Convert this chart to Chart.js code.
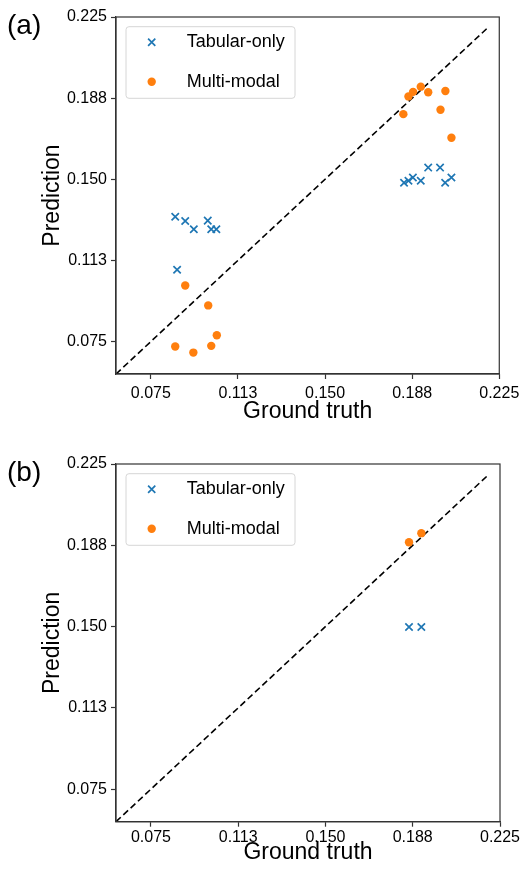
<!DOCTYPE html>
<html>
<head>
<meta charset="utf-8">
<script src="https://cdn.jsdelivr.net/npm/chart.js@4"></script>
<style>
  body { margin: 0; background: #fff; }
  .panel { position: absolute; left: 0; }
</style>
</head>
<body>
<div class="panel" style="top:0"><canvas id="chartA" width="524" height="447"></canvas></div>
<div class="panel" style="top:447px"><canvas id="chartB" width="524" height="424"></canvas></div>
<script>
// tick positions and their printed labels (same on both axes)
const tickValues = [0.075, 0.1125, 0.15, 0.1875, 0.225];
const tickLabels = ['0.075', '0.113', '0.150', '0.188', '0.225'];
const axisMin = 0.06, axisMax = 0.225;
const diagonal = [0.06, 0.22];

const seriesNames = ['Tabular-only', 'Multi-modal'];

// panel (a)
const truthA_tab = [0.0855, 0.0898, 0.0935, 0.0995, 0.1010, 0.1032, 0.0863, 0.1840, 0.1859, 0.1878, 0.1912, 0.1944, 0.1995, 0.2017, 0.2044];
const predA_tab  = [0.1327, 0.1307, 0.1269, 0.1309, 0.1269, 0.1269, 0.1082, 0.1484, 0.1493, 0.1508, 0.1493, 0.1554, 0.1554, 0.1484, 0.1508];
const truthA_mm  = [0.1837, 0.1859, 0.1879, 0.1912, 0.1944, 0.1997, 0.2018, 0.2044, 0.0898, 0.0997, 0.1034, 0.0855, 0.0933, 0.1010];
const predA_mm   = [0.1801, 0.1883, 0.1904, 0.1928, 0.1902, 0.1821, 0.1908, 0.1692, 0.1009, 0.0917, 0.0779, 0.0727, 0.0699, 0.0730];

// panel (b)
const truthB_tab = [0.1859, 0.1912];
const predB_tab  = [0.1498, 0.1498];
const truthB_mm  = [0.1859, 0.1912];
const predB_mm   = [0.1889, 0.1931];

const BLUE = '#1f77b4', ORANGE = '#ff7f0e', SPINE = '#333';
const FONT = '"Liberation Sans", Arial, sans-serif';

function pts(xs, ys) { return xs.map((x, i) => ({ x: x, y: ys[i] })); }

// frame + panel letter + legend inside the axes
const decorations = {
  id: 'decorations',
  afterDraw(chart, args, opts) {
    const ctx = chart.ctx, a = chart.chartArea;
    ctx.save();
    ctx.strokeStyle = SPINE;
    ctx.lineWidth = 1.2;
    ctx.strokeRect(a.left, a.top, a.right - a.left, a.bottom - a.top);

    ctx.fillStyle = '#000';
    ctx.font = '28px ' + FONT;
    ctx.textBaseline = 'alphabetic';
    ctx.textAlign = 'left';
    ctx.fillText(opts.letter, 7, 33.5);

    // legend box
    const bx = a.left + 10, by = a.top + 9.7, bw = 169, bh = 71.6;
    ctx.beginPath();
    ctx.roundRect(bx, by, bw, bh, 3);
    ctx.fillStyle = 'rgba(255,255,255,0.8)';
    ctx.fill();
    ctx.strokeStyle = '#d6d6d6';
    ctx.lineWidth = 1;
    ctx.stroke();

    const rows = [by + 15.6, by + 55];
    const mx = bx + 25.7;
    // x marker
    ctx.strokeStyle = BLUE;
    ctx.lineWidth = 1.7;
    ctx.beginPath();
    ctx.moveTo(mx - 3.6, rows[0] - 3.6); ctx.lineTo(mx + 3.6, rows[0] + 3.6);
    ctx.moveTo(mx - 3.6, rows[0] + 3.6); ctx.lineTo(mx + 3.6, rows[0] - 3.6);
    ctx.stroke();
    // dot marker
    ctx.fillStyle = ORANGE;
    ctx.beginPath();
    ctx.arc(mx, rows[1], 4.2, 0, Math.PI * 2);
    ctx.fill();

    ctx.fillStyle = '#000';
    ctx.font = '18px ' + FONT;
    ctx.textBaseline = 'middle';
    ctx.fillText(seriesNames[0], bx + 60.7, rows[0]);
    ctx.fillText(seriesNames[1], bx + 60.7, rows[1]);
    ctx.restore();
  }
};

function makeChart(id, letter, tab, mm, xAxisHeight, xTitlePad, xTickPad) {
  const axis = (title, isX) => ({
    type: 'linear',
    min: axisMin,
    max: axisMax,
    afterBuildTicks: s => { s.ticks = tickValues.map(v => ({ value: v })); },
    afterFit: s => { if (isX) s.height = xAxisHeight; else s.width = 116; },
    grid: { drawOnChartArea: false, drawTicks: true, tickLength: 5, tickWidth: 1.2, tickColor: SPINE },
    border: { display: true, color: SPINE, width: 1.2 },
    ticks: {
      color: '#000',
      font: { family: FONT, size: 16 },
      padding: isX ? xTickPad : 4,
      maxRotation: 0,
      callback: (v, i) => tickLabels[i]
    },
    title: {
      display: true,
      text: title,
      color: '#000',
      font: { family: FONT, size: 23, lineHeight: 1.2 },
      padding: isX ? { top: 0, bottom: xTitlePad } : { top: 39, bottom: 0 }
    }
  });

  return new Chart(document.getElementById(id), {
    type: 'scatter',
    data: {
      datasets: [
        {
          label: seriesNames[0],
          data: tab,
          pointStyle: 'crossRot',
          pointRadius: 5.2,
          pointBorderWidth: 1.7,
          borderColor: BLUE,
          backgroundColor: BLUE
        },
        {
          label: seriesNames[1],
          data: mm,
          pointStyle: 'circle',
          pointRadius: 4.2,
          pointBorderWidth: 0,
          borderColor: ORANGE,
          backgroundColor: ORANGE
        },
        {
          type: 'line',
          label: 'y = x',
          data: pts(diagonal, diagonal),
          borderColor: '#000',
          borderWidth: 1.6,
          borderDash: [6.5, 3.5],
          pointRadius: 0,
          fill: false
        }
      ]
    },
    options: {
      responsive: false,
      animation: false,
      layout: { padding: { top: 17, right: 24, left: 0, bottom: 0 } },
      scales: {
        x: axis('Ground truth', true),
        y: axis('Prediction', false)
      },
      plugins: {
        legend: { display: false },
        tooltip: { enabled: false },
        decorations: { letter: letter }
      }
    },
    plugins: [decorations]
  });
}

makeChart('chartA', '(a)', pts(truthA_tab, predA_tab), pts(truthA_mm, predA_mm), 73, 21.2, 4.7);
makeChart('chartB', '(b)', pts(truthB_tab, predB_tab), pts(truthB_mm, predB_mm), 49.3, 4.2, 1.5);
</script>
</body>
</html>
